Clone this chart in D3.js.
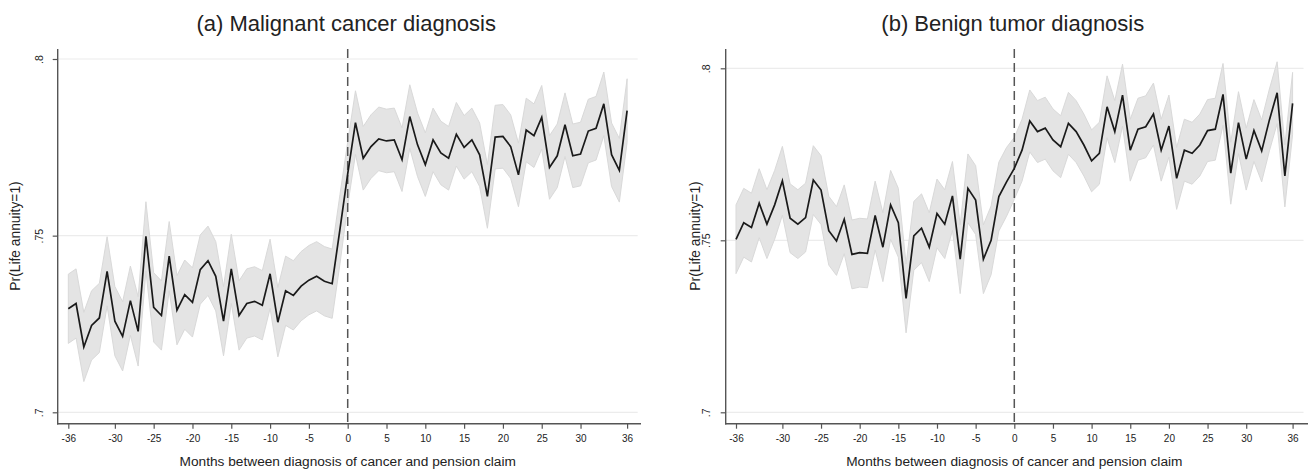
<!DOCTYPE html>
<html>
<head>
<meta charset="utf-8">
<script src="https://cdn.jsdelivr.net/npm/d3@7"></script>
<style>
  html, body { margin: 0; padding: 0; background: #ffffff; }
  svg { display: block; }
  text { font-family: 'Liberation Sans', Arial, Helvetica, sans-serif; fill: #222; }
</style>
</head>
<body>
<svg id="chart" width="1308" height="470"></svg>
<script>
// ---------------- data ----------------
const months = [-36,-35,-34,-33,-32,-31,-30,-29,-28,-27,-26,-25,-24,-23,-22,-21,-20,-19,-18,-17,-16,-15,-14,-13,-12,-11,-10,-9,-8,-7,-6,-5,-4,-3,-2,-1,
  0,1,2,3,4,5,6,7,8,9,10,11,12,13,14,15,16,17,18,19,20,21,22,23,24,25,26,27,28,29,30,31,32,33,34,35,36];

const xTickValues = [-36,-30,-25,-20,-15,-10,-5,0,5,10,15,20,25,30,36];
const yTickValues = [0.7, 0.75, 0.8];
const yTickLabels = [".7", ".75", ".8"];

const titleA = "(a) Malignant cancer diagnosis";
const titleB = "(b) Benign tumor diagnosis";
const xAxisTitle = "Months between diagnosis of cancer and pension claim";
const yAxisTitle = "Pr(Life annuity=1)";

// (a) Malignant cancer diagnosis
const malignantValue = [0.7293,0.7308,0.7185,0.7246,0.7267,0.7399,0.7258,0.7215,0.7316,0.7229,0.7498,0.7297,0.7274,0.7442,0.7289,0.7333,0.7311,0.7404,0.7429,0.7385,0.7258,0.7406,0.7274,0.7308,0.7314,0.7303,0.7392,0.7255,0.7344,0.7331,0.7357,0.7374,0.7385,0.7371,0.7364,0.7518,
  0.7675,0.7820,0.7719,0.7752,0.7774,0.7768,0.7771,0.7715,0.7837,0.7757,0.7701,0.7771,0.7734,0.7719,0.7787,0.7750,0.7771,0.7729,0.7611,0.7779,0.7781,0.7752,0.7672,0.7799,0.7783,0.7835,0.7693,0.7726,0.7814,0.7726,0.7731,0.7796,0.7804,0.7873,0.7729,0.7685,0.7854];
const malignantLow = [0.7195,0.7210,0.7087,0.7148,0.7169,0.7301,0.7160,0.7117,0.7218,0.7131,0.7400,0.7199,0.7176,0.7344,0.7191,0.7235,0.7213,0.7306,0.7331,0.7287,0.7160,0.7308,0.7176,0.7210,0.7216,0.7205,0.7294,0.7157,0.7246,0.7233,0.7259,0.7276,0.7287,0.7273,0.7266,0.7420,
  0.7585,0.7730,0.7629,0.7662,0.7684,0.7678,0.7681,0.7625,0.7747,0.7667,0.7611,0.7681,0.7644,0.7629,0.7697,0.7660,0.7681,0.7639,0.7521,0.7689,0.7691,0.7662,0.7582,0.7709,0.7693,0.7745,0.7603,0.7636,0.7724,0.7636,0.7641,0.7706,0.7714,0.7783,0.7639,0.7595,0.7764];
const malignantHigh = [0.7391,0.7406,0.7283,0.7344,0.7365,0.7497,0.7356,0.7313,0.7414,0.7327,0.7596,0.7395,0.7372,0.7540,0.7387,0.7431,0.7409,0.7502,0.7527,0.7483,0.7356,0.7504,0.7372,0.7406,0.7412,0.7401,0.7490,0.7353,0.7442,0.7429,0.7455,0.7472,0.7483,0.7469,0.7462,0.7616,
  0.7765,0.7910,0.7809,0.7842,0.7864,0.7858,0.7861,0.7805,0.7927,0.7847,0.7791,0.7861,0.7824,0.7809,0.7877,0.7840,0.7861,0.7819,0.7701,0.7869,0.7871,0.7842,0.7762,0.7889,0.7873,0.7925,0.7783,0.7816,0.7904,0.7816,0.7821,0.7886,0.7894,0.7963,0.7819,0.7775,0.7944];

// (b) Benign tumor diagnosis
const benignValue = [0.7503,0.7551,0.7537,0.7608,0.7547,0.7603,0.7673,0.7564,0.7547,0.7566,0.7675,0.7646,0.7528,0.7498,0.7561,0.7459,0.7464,0.7462,0.7572,0.7480,0.7603,0.7551,0.7331,0.7513,0.7535,0.7480,0.7578,0.7547,0.7629,0.7445,0.7651,0.7617,0.7445,0.7500,0.7627,0.7670,
  0.7709,0.7762,0.7847,0.7816,0.7826,0.7792,0.7772,0.7840,0.7816,0.7777,0.7731,0.7753,0.7888,0.7816,0.7922,0.7762,0.7823,0.7830,0.7867,0.7762,0.7832,0.7680,0.7762,0.7753,0.7777,0.7819,0.7823,0.7924,0.7695,0.7842,0.7736,0.7819,0.7760,0.7850,0.7929,0.7687,0.7898];
const benignLow = [0.7403,0.7451,0.7437,0.7508,0.7447,0.7503,0.7573,0.7464,0.7447,0.7466,0.7575,0.7546,0.7428,0.7398,0.7461,0.7359,0.7364,0.7362,0.7472,0.7380,0.7503,0.7451,0.7231,0.7413,0.7435,0.7380,0.7478,0.7447,0.7529,0.7345,0.7551,0.7517,0.7345,0.7400,0.7527,0.7570,
  0.7619,0.7672,0.7757,0.7726,0.7736,0.7702,0.7682,0.7750,0.7726,0.7687,0.7641,0.7663,0.7798,0.7726,0.7832,0.7672,0.7733,0.7740,0.7777,0.7672,0.7742,0.7590,0.7672,0.7663,0.7687,0.7729,0.7733,0.7834,0.7605,0.7752,0.7646,0.7729,0.7670,0.7760,0.7839,0.7597,0.7808];
const benignHigh = [0.7603,0.7651,0.7637,0.7708,0.7647,0.7703,0.7773,0.7664,0.7647,0.7666,0.7775,0.7746,0.7628,0.7598,0.7661,0.7559,0.7564,0.7562,0.7672,0.7580,0.7703,0.7651,0.7431,0.7613,0.7635,0.7580,0.7678,0.7647,0.7729,0.7545,0.7751,0.7717,0.7545,0.7600,0.7727,0.7770,
  0.7799,0.7852,0.7937,0.7906,0.7916,0.7882,0.7862,0.7930,0.7906,0.7867,0.7821,0.7843,0.7978,0.7906,0.8012,0.7852,0.7913,0.7920,0.7957,0.7852,0.7922,0.7770,0.7852,0.7843,0.7867,0.7909,0.7913,0.8014,0.7785,0.7932,0.7826,0.7909,0.7850,0.7940,0.8019,0.7777,0.7988];

// ---------------- layout ----------------
const svg = d3.select("#chart");
const axisTop = 49, axisBottom = 423.7;

const panels = [
  { title: titleA, value: malignantValue, low: malignantLow, high: malignantHigh,
    axisX: 57.7, xStart: 68.3, xStop: 627.1, axisEnd: 641, gridEnd: 637.7,
    yTop: 59, yBottom: 412.3, yTitleX: 15, yLabelX: 38.5 },
  { title: titleB, value: benignValue, low: benignLow, high: benignHigh,
    axisX: 725.7, xStart: 736, xStop: 1292.6, axisEnd: 1308, gridEnd: 1303.5,
    yTop: 68.3, yBottom: 412.3, yTitleX: 695, yLabelX: 705.5 }
];

panels.forEach(p => {
  const g = svg.append("g");
  const x = d3.scaleLinear().domain([-36, 36]).range([p.xStart, p.xStop]);
  const y = d3.scaleLinear().domain([0.7, 0.8]).range([p.yBottom, p.yTop]);

  const rows = months.map((m, i) => ({ m, v: p.value[i], lo: p.low[i], hi: p.high[i] }));

  // grid lines
  g.selectAll("line.grid").data(yTickValues).join("line")
    .attr("class", "grid")
    .attr("x1", p.axisX).attr("x2", p.gridEnd)
    .attr("y1", d => y(d)).attr("y2", d => y(d))
    .attr("stroke", "#ececec").attr("stroke-width", 1.2);

  // confidence band
  const area = d3.area().x(d => x(d.m)).y0(d => y(d.lo)).y1(d => y(d.hi));
  g.append("path").datum(rows).attr("d", area)
    .attr("fill", "#e4e4e4").attr("stroke", "#d9d9d9").attr("stroke-width", 1);

  // vertical dashed line at 0
  g.append("line")
    .attr("x1", x(0)).attr("x2", x(0))
    .attr("y1", axisTop).attr("y2", axisBottom)
    .attr("stroke", "#555").attr("stroke-width", 1.5)
    .attr("stroke-dasharray", "9,5");

  // estimate line
  const line = d3.line().x(d => x(d.m)).y(d => y(d.v));
  g.append("path").datum(rows).attr("d", line)
    .attr("fill", "none").attr("stroke", "#1a1a1a").attr("stroke-width", 1.7)
    .attr("stroke-linejoin", "miter");

  // x axis
  const xAxis = d3.axisBottom(x).tickValues(xTickValues).tickSize(5).tickPadding(6)
    .tickFormat(d => String(d));
  const gx = g.append("g").attr("transform", `translate(0,${axisBottom})`).call(xAxis);
  gx.select(".domain").remove();
  gx.selectAll(".tick line").attr("stroke", "#555").attr("stroke-width", 1.2);
  gx.selectAll(".tick text").attr("font-size", "10px").attr("fill", "#333")
    .attr("font-family", "'Liberation Sans', Arial, sans-serif");
  g.append("line").attr("x1", p.axisX - 0.7).attr("x2", p.axisEnd)
    .attr("y1", axisBottom).attr("y2", axisBottom)
    .attr("stroke", "#555").attr("stroke-width", 1.4);

  // y axis
  const yAxis = d3.axisLeft(y).tickValues(yTickValues).tickSize(5)
    .tickFormat((d, i) => yTickLabels[i]);
  const gy = g.append("g").attr("transform", `translate(${p.axisX},0)`).call(yAxis);
  gy.select(".domain").remove();
  gy.selectAll(".tick line").attr("stroke", "#555").attr("stroke-width", 1.2);
  gy.selectAll(".tick text")
    .attr("x", null).attr("dy", null)
    .attr("text-anchor", "middle")
    .attr("dominant-baseline", "central")
    .attr("font-size", "10.5px").attr("fill", "#333")
    .attr("font-family", "'Liberation Sans', Arial, sans-serif")
    .attr("transform", `translate(${p.yLabelX - p.axisX},0) rotate(-90)`);
  g.append("line").attr("x1", p.axisX).attr("x2", p.axisX)
    .attr("y1", axisTop).attr("y2", axisBottom + 0.7)
    .attr("stroke", "#555").attr("stroke-width", 1.4);

  // titles
  g.append("text").attr("x", x(0) - 1.5).attr("y", 31)
    .attr("text-anchor", "middle").attr("font-size", "22px").attr("fill", "#1a1a1a")
    .text(p.title);

  g.append("text").attr("x", x(0)).attr("y", 466)
    .attr("text-anchor", "middle").attr("font-size", "13.7px").attr("fill", "#333")
    .text(xAxisTitle);

  g.append("text")
    .attr("transform", `translate(${p.yTitleX},236) rotate(-90)`)
    .attr("text-anchor", "middle").attr("dominant-baseline", "central")
    .attr("font-size", "13.8px").attr("fill", "#333")
    .text(yAxisTitle);
});
</script>
</body>
</html>
